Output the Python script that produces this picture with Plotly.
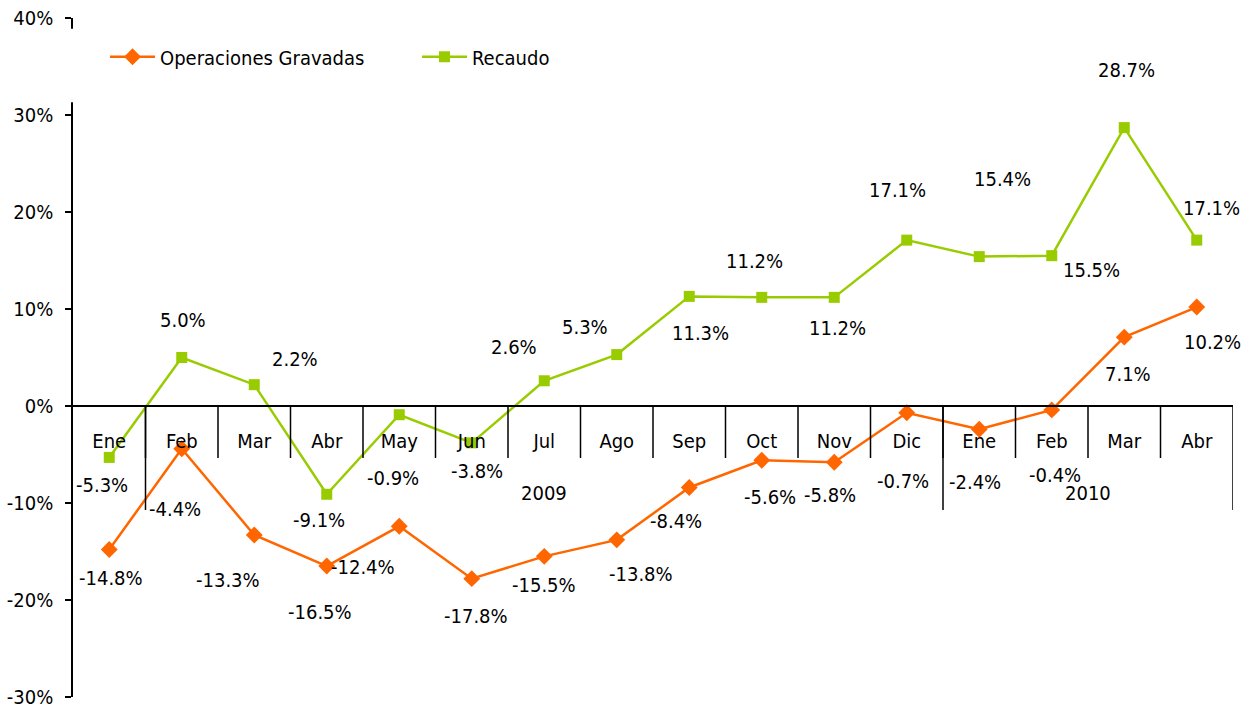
import plotly.graph_objects as go

months = ["Ene", "Feb", "Mar", "Abr", "May", "Jun", "Jul", "Ago", "Sep", "Oct", "Nov", "Dic",
          "Ene", "Feb", "Mar", "Abr"]
group_labels = ["", "2009", "2010"]
group_sizes = [1, 11, 4]

operaciones = [-14.8, -4.4, -13.3, -16.5, -12.4, -17.8, -15.5, -13.8, -8.4, -5.6, -5.8, -0.7,
               -2.4, -0.4, 7.1, 10.2]
recaudo = [-5.3, 5.0, 2.2, -9.1, -0.9, -3.8, 2.6, 5.3, 11.3, 11.2, 11.2, 17.1,
           15.4, 15.5, 28.7, 17.1]

y_ticks = [-30, -20, -10, 0, 10, 20, 30, 40]

# label offsets in pixels (style only)
rec_off = [(-7, -28), (1, 38), (41, 26), (-8, -26), (-6, -63), (5, -28), (-30, 34), (-32, 28),
           (11, -37), (-7, 36), (3, -31), (-9, 50), (23, 78), (40, -14), (2, 58), (15, 32)]
op_off = [(2, -28), (-7, -60), (-26, -45), (-7, -46), (-36, -41), (4, -37), (0, -29), (24, -34),
          (-13, -34), (8, -37), (-4, -33), (-4, -68), (-4, -53), (3, -65), (4, -37), (16, -35)]

FONT = "DejaVu Sans Condensed, DejaVu Sans, sans-serif"
FS = 20
ORANGE = "#FF6600"
GREEN = "#99CC00"

x = list(range(len(months)))

fig = go.Figure()
fig.add_trace(go.Scatter(x=x, y=operaciones, mode="lines+markers", name="Operaciones Gravadas",
                         line=dict(color=ORANGE, width=2.5),
                         marker=dict(symbol="diamond", size=13, color=ORANGE)))
fig.add_trace(go.Scatter(x=x, y=recaudo, mode="lines+markers", name="Recaudo",
                         line=dict(color=GREEN, width=2.5),
                         marker=dict(symbol="square", size=11, color=GREEN)))

annotations = []
for series, offs in ((recaudo, rec_off), (operaciones, op_off)):
    for i, v in enumerate(series):
        annotations.append(dict(x=i, y=v, xref="x", yref="y", text=f"{v:.1f}%", showarrow=False,
                                xshift=offs[i][0], yshift=offs[i][1],
                                font=dict(family=FONT, size=FS, color="black")))

# separators and group labels
shapes = []
n = len(months)
for b in range(1, n):
    shapes.append(dict(type="line", xref="x", yref="y", ysizemode="pixel", yanchor=0,
                       x0=b - 0.5, x1=b - 0.5, y0=0, y1=-52,
                       line=dict(color="black", width=1.5)))
start = 0
for lab, size in zip(group_labels, group_sizes):
    end = start + size
    shapes.append(dict(type="line", xref="x", yref="y", ysizemode="pixel", yanchor=0,
                       x0=end - 0.5, x1=end - 0.5, y0=0, y1=-104,
                       line=dict(color="black", width=1.5)))
    if lab:
        annotations.append(dict(x=(start + end - 1) / 2, y=0, xref="x", yref="y", text=lab,
                                showarrow=False, yshift=-87,
                                font=dict(family=FONT, size=FS, color="black")))
    start = end

# white mask where the legend interrupts the value axis
shapes.append(dict(type="rect", xref="paper", yref="paper", x0=-0.012, x1=0.012,
                   y0=0.876, y1=0.984, fillcolor="white", line=dict(width=0), layer="above"))

ymin, ymax = y_ticks[0], y_ticks[-1]
fig.update_layout(
    width=1250, height=711,
    margin=dict(l=73, r=17, t=18, b=14, autoexpand=False),
    paper_bgcolor="white", plot_bgcolor="white",
    font=dict(family=FONT, size=FS, color="black"),
    showlegend=True,
    legend=dict(orientation="h", x=0.0276, xanchor="left", y=0.943, yanchor="middle",
                bgcolor="rgba(0,0,0,0)", font=dict(family=FONT, size=FS), entrywidth=252,
                itemwidth=45),
    xaxis=dict(range=[-0.5, n - 0.5], tickvals=x, ticktext=months, showgrid=False,
               zeroline=False, showline=True, linecolor="black", linewidth=1.5,
               anchor="free", position=(0 - ymin) / (ymax - ymin), ticks="", automargin=False,
               ticklabelstandoff=17, tickfont=dict(family=FONT, size=FS)),
    yaxis=dict(range=[ymin, ymax], tickvals=y_ticks, ticktext=[f"{t}%" for t in y_ticks],
               showgrid=False, zeroline=False, showline=True, linecolor="black", linewidth=1.5,
               ticks="outside", ticklen=6, tickwidth=1.5, tickcolor="black", automargin=False,
               ticklabelstandoff=8, tickfont=dict(family=FONT, size=FS)),
    annotations=annotations,
    shapes=shapes,
)

fig.write_html("out.html", config={"displayModeBar": False},
               post_script="document.body.style.margin='0';document.body.style.overflow='hidden';")
